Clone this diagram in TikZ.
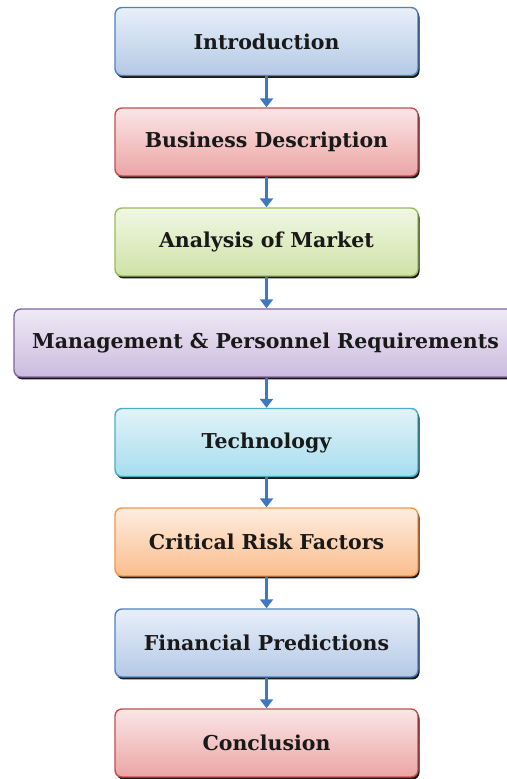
\documentclass[tikz,border=0pt]{standalone}
\usepackage{fontspec}
\setmainfont{DejaVu Serif}
\usetikzlibrary{arrows.meta,shadows}
\definecolor{arr}{HTML}{3F78C0}
\tikzset{
  box/.style={draw, line width=1.4pt, rounded corners=7pt, minimum width=303pt, minimum height=68pt, inner sep=0pt,
    font=\fontsize{20.5}{24}\selectfont\bfseries, text=black!90,
    drop shadow={shadow xshift=1.5pt, shadow yshift=-2.5pt, fill=black, opacity=0.9}},
  link/.style={draw=arr, line width=2.4pt, -{Triangle[width=13pt,length=9pt]}},
}
\definecolor{HTMLb}{HTML}{4F81BD}\definecolor{HTMLbt}{HTML}{E8EFF9}\definecolor{HTMLbb}{HTML}{B4C9E6}
\definecolor{rb}{HTML}{C0504D}\definecolor{rt}{HTML}{FAE6E6}\definecolor{rbb}{HTML}{ECA4A4}
\definecolor{gb}{HTML}{9BBB59}\definecolor{gt}{HTML}{F1F7E4}\definecolor{gbb}{HTML}{CFE2A6}
\definecolor{pb}{HTML}{8064A2}\definecolor{pt}{HTML}{EFEAF5}\definecolor{pbb}{HTML}{CBBBDE}
\definecolor{ab}{HTML}{4BACC6}\definecolor{at}{HTML}{E2F3F8}\definecolor{abb}{HTML}{A6DDEE}
\definecolor{ob}{HTML}{F79646}\definecolor{ot}{HTML}{FEEDE0}\definecolor{obb}{HTML}{FBBD8C}
\tikzset{
  bluebox/.style={box, draw=HTMLb, top color=HTMLbt, bottom color=HTMLbb},
  redbox/.style={box, draw=rb, top color=rt, bottom color=rbb},
  greenbox/.style={box, draw=gb, top color=gt, bottom color=gbb},
  purplebox/.style={box, draw=pb, top color=pt, bottom color=pbb},
  aquabox/.style={box, draw=ab, top color=at, bottom color=abb},
  orangebox/.style={box, draw=ob, top color=ot, bottom color=obb},
}
\begin{document}
\begin{tikzpicture}[x=1pt,y=1pt]
\useasboundingbox (0,0) rectangle (506,779);
\node[bluebox] (intro) at (266.5,737.5) {Introduction};
\node[redbox] (biz) at (266.5,637) {Business Description};
\node[greenbox] (ana) at (266.5,537) {Analysis of Market};
\node[purplebox, minimum width=503pt] (mgmt) at (265.5,436) {Management \& Personnel Requirements};
\node[aquabox] (tech) at (266.5,336.5) {Technology};
\node[orangebox] (crit) at (266.5,237) {Critical Risk Factors};
\node[bluebox] (fin) at (266.5,136) {Financial Predictions};
\node[redbox] (conc) at (266.5,36) {Conclusion};
\draw[link] (intro.south) -- (biz.north);
\draw[link] (biz.south) -- (ana.north);
\draw[link] (ana.south) -- (ana.south |- mgmt.north);
\draw[link] (ana.south |- mgmt.south) -- (tech.north);
\draw[link] (tech.south) -- (crit.north);
\draw[link] (crit.south) -- (fin.north);
\draw[link] (fin.south) -- (conc.north);
\end{tikzpicture}
\end{document}
